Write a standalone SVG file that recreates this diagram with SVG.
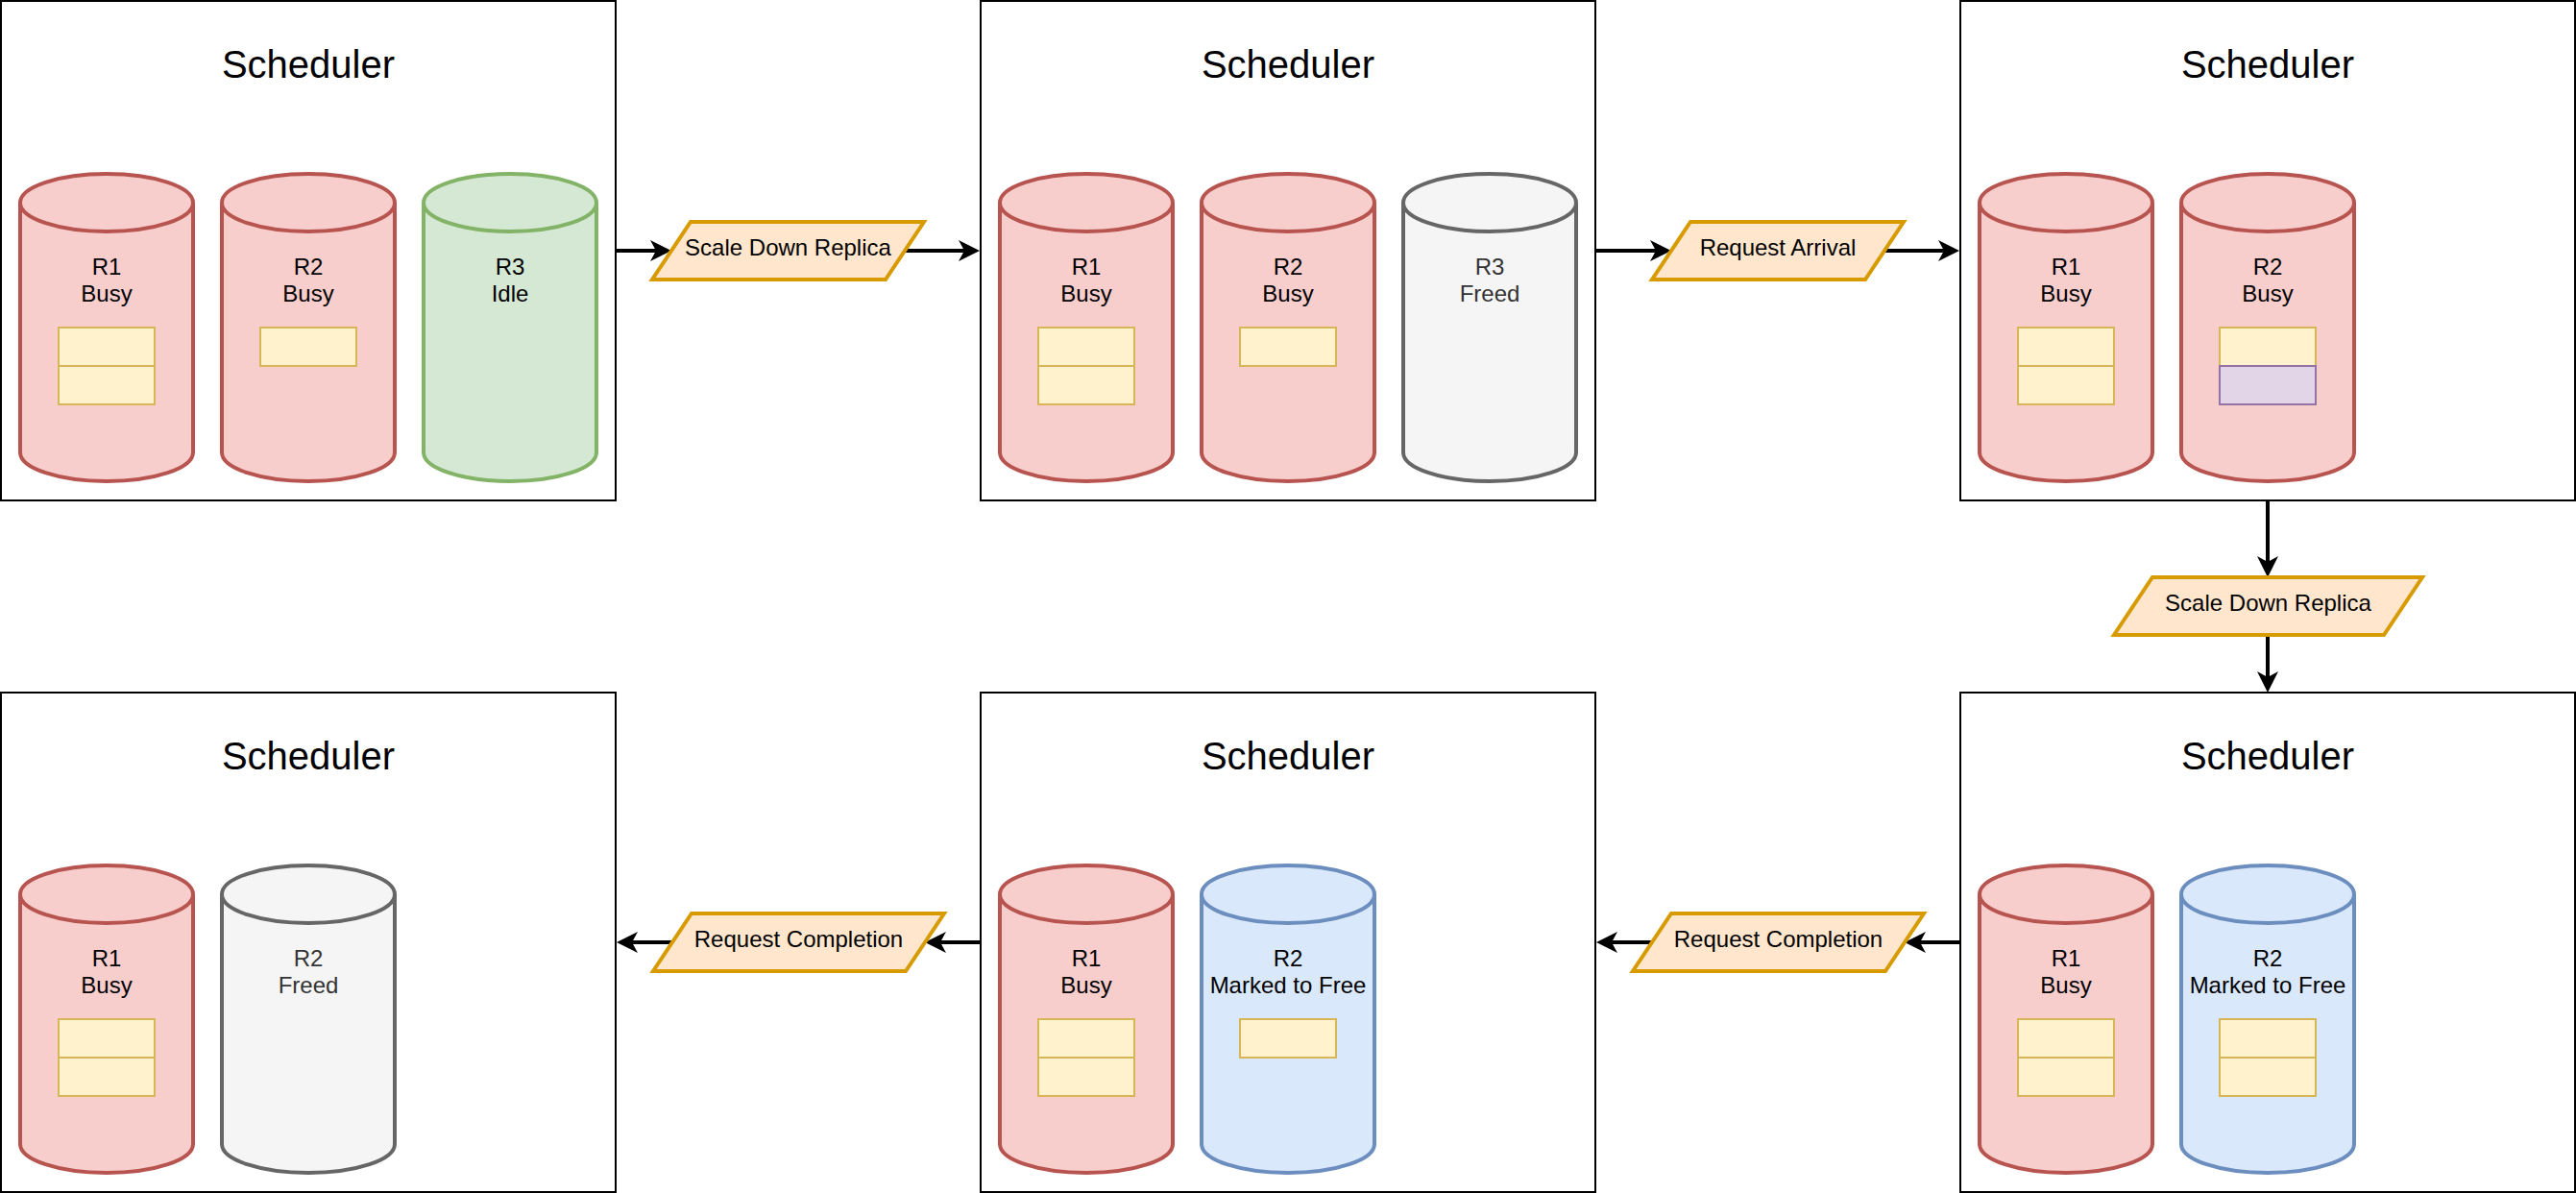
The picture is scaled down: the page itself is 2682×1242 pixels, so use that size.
<svg xmlns="http://www.w3.org/2000/svg" width="2682" height="1242" viewBox="0 0 2682 1242">
<style>
.bg{fill:#ffffff}
.panel{fill:#ffffff;stroke:#000000;stroke-width:2}
.title{font-family:"Liberation Sans",Arial,sans-serif;font-size:40px;text-anchor:middle;fill:#000000}
.lbl{font-family:"Liberation Sans",Arial,sans-serif;font-size:24px;text-anchor:middle;fill:#000000}
.lbl.grey{fill:#333333}
.cyl{stroke-width:4}
.red{fill:#f8cecc;stroke:#b85450}
.green{fill:#d5e8d4;stroke:#82b366}
.gray{fill:#f5f5f5;stroke:#666666}
.blue{fill:#dae8fc;stroke:#6c8ebf}
.inner{fill:none}
.req{fill:#fff2cc;stroke:#d6b656;stroke-width:2}
.req2{fill:#e1d5e7;stroke:#9673a6;stroke-width:2}
.para{fill:#ffe6cc;stroke:#d79b00;stroke-width:4}
.edge{fill:none;stroke:#000000;stroke-width:4}
</style>
<defs>
<marker id="arrow" viewBox="0 0 22 22" markerWidth="22" markerHeight="22" refX="6" refY="11" orient="auto" markerUnits="userSpaceOnUse">
<path d="M22,11 L0,0 L6,11 L0,22 Z" fill="#000000"/>
</marker>
<path id="cylOuter" d="M0,30 A90,30 0 0 1 180,30 V290 A90,30 0 0 1 0,290 Z"/>
<path id="cylInner" d="M0,30 A90,30 0 0 0 180,30"/>
</defs>
<rect class="bg" x="0" y="0" width="2682" height="1242"/>

<g id="panel1" transform="translate(1,1)">
<rect class="panel" x="0" y="0" width="640" height="520"/>
<text class="title" x="320" y="80">Scheduler</text>
<g id="p1-r1" transform="translate(20,180)">
<use href="#cylOuter" class="cyl red"/><use href="#cylInner" class="cyl red inner"/>
<text class="lbl" x="90" y="105">R1</text><text class="lbl" x="90" y="133">Busy</text>
<rect class="req" x="40" y="160" width="100" height="40"/><rect class="req" x="40" y="200" width="100" height="40"/>
</g>
<g id="p1-r2" transform="translate(230,180)">
<use href="#cylOuter" class="cyl red"/><use href="#cylInner" class="cyl red inner"/>
<text class="lbl" x="90" y="105">R2</text><text class="lbl" x="90" y="133">Busy</text>
<rect class="req" x="40" y="160" width="100" height="40"/>
</g>
<g id="p1-r3" transform="translate(440,180)">
<use href="#cylOuter" class="cyl green"/><use href="#cylInner" class="cyl green inner"/>
<text class="lbl" x="90" y="105">R3</text><text class="lbl" x="90" y="133">Idle</text>
</g>
</g>

<g id="panel2" transform="translate(1021,1)">
<rect class="panel" x="0" y="0" width="640" height="520"/>
<text class="title" x="320" y="80">Scheduler</text>
<g id="p2-r1" transform="translate(20,180)">
<use href="#cylOuter" class="cyl red"/><use href="#cylInner" class="cyl red inner"/>
<text class="lbl" x="90" y="105">R1</text><text class="lbl" x="90" y="133">Busy</text>
<rect class="req" x="40" y="160" width="100" height="40"/><rect class="req" x="40" y="200" width="100" height="40"/>
</g>
<g id="p2-r2" transform="translate(230,180)">
<use href="#cylOuter" class="cyl red"/><use href="#cylInner" class="cyl red inner"/>
<text class="lbl" x="90" y="105">R2</text><text class="lbl" x="90" y="133">Busy</text>
<rect class="req" x="40" y="160" width="100" height="40"/>
</g>
<g id="p2-r3" transform="translate(440,180)">
<use href="#cylOuter" class="cyl gray"/><use href="#cylInner" class="cyl gray inner"/>
<text class="lbl grey" x="90" y="105">R3</text><text class="lbl grey" x="90" y="133">Freed</text>
</g>
</g>

<g id="panel3" transform="translate(2041,1)">
<rect class="panel" x="0" y="0" width="640" height="520"/>
<text class="title" x="320" y="80">Scheduler</text>
<g id="p3-r1" transform="translate(20,180)">
<use href="#cylOuter" class="cyl red"/><use href="#cylInner" class="cyl red inner"/>
<text class="lbl" x="90" y="105">R1</text><text class="lbl" x="90" y="133">Busy</text>
<rect class="req" x="40" y="160" width="100" height="40"/><rect class="req" x="40" y="200" width="100" height="40"/>
</g>
<g id="p3-r2" transform="translate(230,180)">
<use href="#cylOuter" class="cyl red"/><use href="#cylInner" class="cyl red inner"/>
<text class="lbl" x="90" y="105">R2</text><text class="lbl" x="90" y="133">Busy</text>
<rect class="req" x="40" y="160" width="100" height="40"/><rect class="req2" x="40" y="200" width="100" height="40"/>
</g>
</g>

<g id="panel4" transform="translate(2041,721)">
<rect class="panel" x="0" y="0" width="640" height="520"/>
<text class="title" x="320" y="80">Scheduler</text>
<g id="p4-r1" transform="translate(20,180)">
<use href="#cylOuter" class="cyl red"/><use href="#cylInner" class="cyl red inner"/>
<text class="lbl" x="90" y="105">R1</text><text class="lbl" x="90" y="133">Busy</text>
<rect class="req" x="40" y="160" width="100" height="40"/><rect class="req" x="40" y="200" width="100" height="40"/>
</g>
<g id="p4-r2" transform="translate(230,180)">
<use href="#cylOuter" class="cyl blue"/><use href="#cylInner" class="cyl blue inner"/>
<text class="lbl" x="90" y="105">R2</text><text class="lbl" x="90" y="133">Marked to Free</text>
<rect class="req" x="40" y="160" width="100" height="40"/><rect class="req" x="40" y="200" width="100" height="40"/>
</g>
</g>

<g id="panel5" transform="translate(1021,721)">
<rect class="panel" x="0" y="0" width="640" height="520"/>
<text class="title" x="320" y="80">Scheduler</text>
<g id="p5-r1" transform="translate(20,180)">
<use href="#cylOuter" class="cyl red"/><use href="#cylInner" class="cyl red inner"/>
<text class="lbl" x="90" y="105">R1</text><text class="lbl" x="90" y="133">Busy</text>
<rect class="req" x="40" y="160" width="100" height="40"/><rect class="req" x="40" y="200" width="100" height="40"/>
</g>
<g id="p5-r2" transform="translate(230,180)">
<use href="#cylOuter" class="cyl blue"/><use href="#cylInner" class="cyl blue inner"/>
<text class="lbl" x="90" y="105">R2</text><text class="lbl" x="90" y="133">Marked to Free</text>
<rect class="req" x="40" y="160" width="100" height="40"/>
</g>
</g>

<g id="panel6" transform="translate(1,721)">
<rect class="panel" x="0" y="0" width="640" height="520"/>
<text class="title" x="320" y="80">Scheduler</text>
<g id="p6-r1" transform="translate(20,180)">
<use href="#cylOuter" class="cyl red"/><use href="#cylInner" class="cyl red inner"/>
<text class="lbl" x="90" y="105">R1</text><text class="lbl" x="90" y="133">Busy</text>
<rect class="req" x="40" y="160" width="100" height="40"/><rect class="req" x="40" y="200" width="100" height="40"/>
</g>
<g id="p6-r2" transform="translate(230,180)">
<use href="#cylOuter" class="cyl gray"/><use href="#cylInner" class="cyl gray inner"/>
<text class="lbl grey" x="90" y="105">R2</text><text class="lbl grey" x="90" y="133">Freed</text>
</g>
</g>

<g id="connectors">
<path class="edge" d="M641,261 H683" marker-end="url(#arrow)"/>
<path class="edge" d="M942,261 H1004" marker-end="url(#arrow)"/>
<path class="edge" d="M1661,261 H1724" marker-end="url(#arrow)"/>
<path class="edge" d="M1962,261 H2024" marker-end="url(#arrow)"/>
<path class="edge" d="M2361,521 V585" marker-end="url(#arrow)"/>
<path class="edge" d="M2361,661 V705" marker-end="url(#arrow)"/>
<path class="edge" d="M2041,981 H1999" marker-end="url(#arrow)"/>
<path class="edge" d="M1720,981 H1678" marker-end="url(#arrow)"/>
<path class="edge" d="M1021,981 H979" marker-end="url(#arrow)"/>
<path class="edge" d="M700,981 H658" marker-end="url(#arrow)"/>
</g>

<g id="event1">
<polygon class="para" points="719,231 962,231 922,291 679,291"/>
<text class="lbl" x="820.5" y="265.5">Scale Down Replica</text>
</g>
<g id="event2">
<polygon class="para" points="1760,231 1982,231 1942,291 1720,291"/>
<text class="lbl" x="1851" y="265.5">Request Arrival</text>
</g>
<g id="event3">
<polygon class="para" points="2241,601 2522,601 2482,661 2201,661"/>
<text class="lbl" x="2361.5" y="635.5">Scale Down Replica</text>
</g>
<g id="event4">
<polygon class="para" points="1740,951 2003,951 1963,1011 1700,1011"/>
<text class="lbl" x="1851.5" y="985.5">Request Completion</text>
</g>
<g id="event5">
<polygon class="para" points="720,951 983,951 943,1011 680,1011"/>
<text class="lbl" x="831.5" y="985.5">Request Completion</text>
</g>
</svg>
